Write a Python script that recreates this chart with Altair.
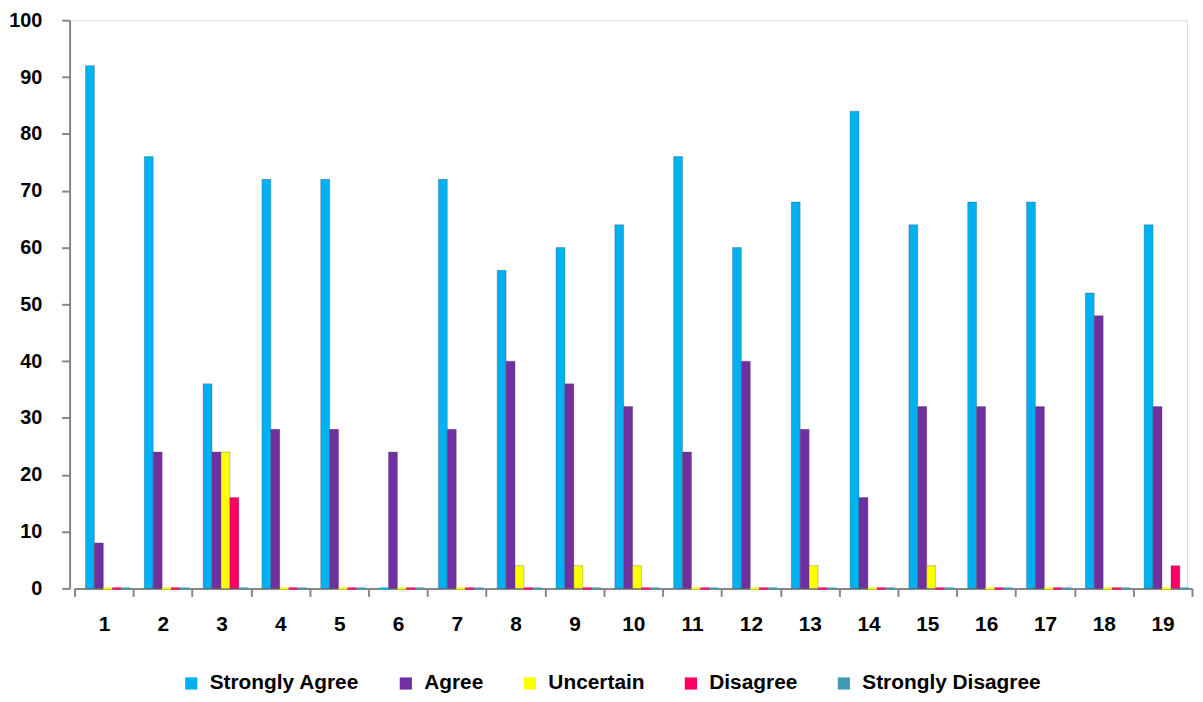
import altair as alt
import pandas as pd

groups = [str(i) for i in range(1, 20)]
series = ["Strongly Agree", "Agree", "Uncertain", "Disagree", "Strongly Disagree"]
colors = ["#00B0F0", "#7030A0", "#FFFF00", "#FF0066", "#4298B5"]

strongly_agree = [92, 76, 36, 72, 72, 0, 72, 56, 60, 64, 76, 60, 68, 84, 64, 68, 68, 52, 64]
agree = [8, 24, 24, 28, 28, 24, 28, 40, 36, 32, 24, 40, 28, 16, 32, 32, 32, 48, 32]
uncertain = [0, 0, 24, 0, 0, 0, 0, 4, 4, 4, 0, 0, 4, 0, 4, 0, 0, 0, 0]
disagree = [0, 0, 16, 0, 0, 0, 0, 0, 0, 0, 0, 0, 0, 0, 0, 0, 0, 0, 4]
strongly_disagree = [0] * 19

rows = []
for s, vals in zip(series, [strongly_agree, agree, uncertain, disagree, strongly_disagree]):
    for g, v in zip(groups, vals):
        rows.append({"group": g, "series": s, "value": v, "order": series.index(s)})
df = pd.DataFrame(rows)

FONT = "Liberation Sans"

x = alt.X("group:N", sort=groups, title=None,
          scale=alt.Scale(paddingInner=0, paddingOuter=0, range=[5, 1130]),
          axis=alt.Axis(labelAngle=0, labelFontSize=21, labelFontWeight="bold",
                        labelColor="#000000", labelFont=FONT, labelPadding=17,
                        tickBand="extent", tickSize=8, tickColor="#868686", tickWidth=2,
                        domainColor="#868686", domainWidth=2))
xo = alt.XOffset("series:N", sort=series,
                 scale=alt.Scale(paddingInner=0, paddingOuter=0, range=[11, 56]))

bars = alt.Chart(df).mark_bar(stroke="#444444", strokeWidth=0.5, strokeOpacity=0.6).encode(
    x=x,
    xOffset=xo,
    y=alt.Y("value:Q", title=None,
            scale=alt.Scale(domain=[0, 100], nice=False),
            axis=alt.Axis(values=list(range(0, 101, 10)), grid=False,
                          labelFontSize=20, labelFontWeight="bold", labelColor="#000000",
                          labelFont=FONT, labelPadding=20, tickSize=8, tickColor="#868686",
                          tickWidth=2, domainColor="#868686", domainWidth=2)),
    color=alt.Color("series:N", sort=series,
                    scale=alt.Scale(domain=series, range=colors),
                    legend=alt.Legend(title=None, orient="none", direction="horizontal",
                                      legendX=112, legendY=657,
                                      symbolType="square", symbolSize=150,
                                      symbolStrokeWidth=0, labelFontSize=21,
                                      labelFontWeight="bold", labelFont=FONT,
                                      labelColor="#000000", columnPadding=36,
                                      labelOffset=8, labelLimit=400)),
    order=alt.Order("order:Q"),
)

stubs = alt.Chart(df).transform_filter("datum.value == 0").mark_bar(strokeWidth=2).encode(
    x=x,
    xOffset=xo,
    y=alt.Y("value:Q"),
    stroke=alt.Stroke("series:N", sort=series,
                      scale=alt.Scale(domain=series, range=colors), legend=None),
)

chart = alt.layer(bars, stubs).properties(
    width=1125, height=572,
    autosize=alt.AutoSizeParams(type="none"),
    padding={"left": 62, "top": 10, "right": 8, "bottom": 104},
).configure_view(stroke=None).configure(background="#ffffff")

chart.save("out.html", embed_options={"renderer": "svg", "actions": False})
